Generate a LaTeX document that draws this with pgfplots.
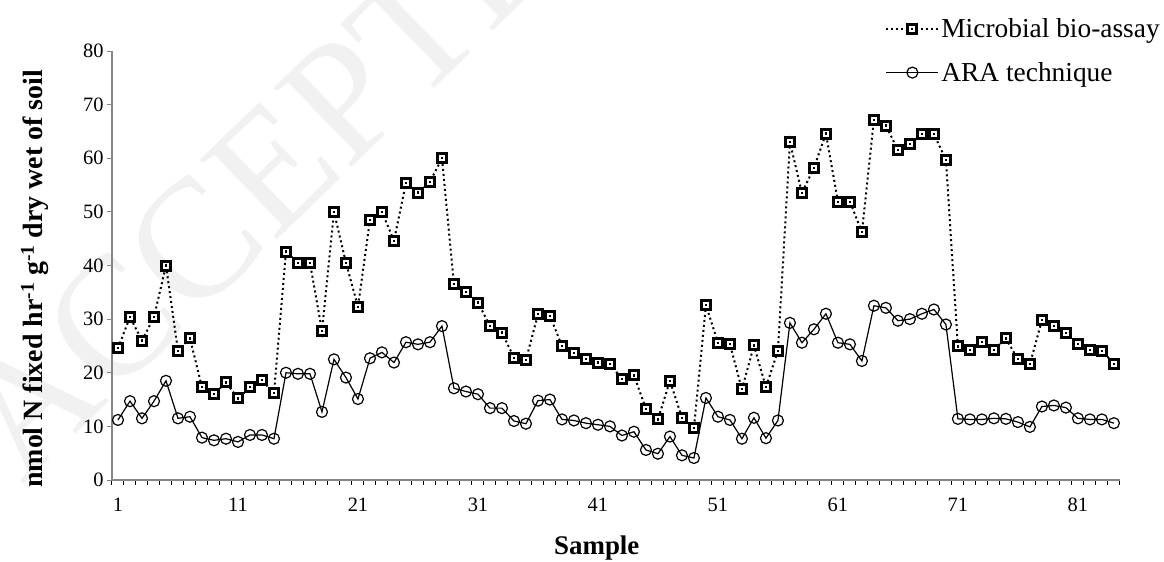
\documentclass[border=0pt]{standalone}
\usepackage{pgfplots}
\pgfplotsset{compat=1.18}
\usepackage{fontspec}
\setmainfont{Liberation Serif}
\definecolor{axisgray}{RGB}{134,134,134}

% Excel-like square marker: thick outline with a small dot in the middle
\pgfdeclareplotmark{sqdot}{%
  \pgfsetlinewidth{3bp}%
  \pgfsetdash{}{0pt}%
  \pgfpathrectangle{\pgfpoint{-\pgfplotmarksize}{-\pgfplotmarksize}}{\pgfpoint{2\pgfplotmarksize}{2\pgfplotmarksize}}%
  \pgfsetfillcolor{white}%
  \pgfusepath{fill,stroke}%
  \pgfpathrectangle{\pgfpoint{-1.1bp}{-1.1bp}}{\pgfpoint{2.2bp}{2.2bp}}%
  \pgfsetfillcolor{black}%
  \pgfusepath{fill}%
}

\begin{document}
\begin{tikzpicture}
\useasboundingbox (-112bp,-82bp) rectangle (1052bp,480bp);
% watermark
\node[rotate=44, text=gray!11, font=\fontsize{170}{170}\selectfont] at (187bp,338bp) {ACCEPTED};
\begin{axis}[
    at={(0,0)}, anchor=south west,
    width=1008bp, height=429bp, scale only axis,
    xmin=0.5, xmax=84.5, ymin=0, ymax=80,
    axis x line*=bottom, axis y line*=left,
    axis line style={draw=axisgray, line width=1.2bp, -},
    xtick={1,11,...,81},
    minor xtick={0.5,1.5,...,84.5},
    every major x tick/.append style={draw=none},
    every minor x tick/.append style={draw=black, line width=1bp},
    every major y tick/.append style={draw=axisgray, line width=1bp},
    ytick={0,10,...,80},
    tick align=outside,
    major tick length=5bp, minor tick length=5bp,
    /pgf/number format/assume math mode=true,
    tick label style={font=\fontsize{20.5}{24}\selectfont},
    xticklabel style={yshift=-9bp},
    xlabel={Sample},
    ylabel={nmol N fixed hr\textsuperscript{-1} g\textsuperscript{-1} dry wet of soil},
    xlabel style={font=\bfseries\fontsize{27}{30}\selectfont, at={(axis description cs:0.481,-0.1585)}, anchor=center},
    ylabel style={font=\bfseries\fontsize{28}{30}\selectfont, at={(axis description cs:-0.0764,0.469)}, anchor=center},
    legend style={at={(axis description cs:1.0417,1.08)}, anchor=north east,
        draw=none, fill=none, font=\fontsize{27.5}{30}\selectfont,
        row sep=19bp, inner sep=0pt},
    legend cell align=left,
    legend image code/.code={%
        \draw[mark repeat=2,mark phase=2,#1] plot coordinates {(0bp,0bp) (26bp,0bp) (52bp,0bp)};},
    clip=false,
]
\addplot[black, line width=2bp, dash pattern=on 2bp off 3bp, mark=sqdot, mark size=4.5bp]
coordinates {
(1,24.6) (2,30.4) (3,26.0) (4,30.4) (5,40.0) (6,24.1) (7,26.4) (8,17.3) (9,16.0) (10,18.2)
(11,15.2) (12,17.3) (13,18.6) (14,16.2) (15,42.6) (16,40.5) (17,40.5) (18,27.8) (19,50.0) (20,40.5)
(21,32.3) (22,48.5) (23,50.0) (24,44.6) (25,55.4) (26,53.6) (27,55.6) (28,60.0) (29,36.5) (30,35.1)
(31,33.1) (32,28.7) (33,27.5) (34,22.8) (35,22.4) (36,30.9) (37,30.6) (38,25.0) (39,23.7) (40,22.6)
(41,21.9) (42,21.7) (43,18.8) (44,19.5) (45,13.3) (46,11.3) (47,18.5) (48,11.6) (49,9.7) (50,32.6)
(51,25.6) (52,25.3) (53,16.9) (54,25.1) (55,17.3) (56,24.1) (57,63.0) (58,53.5) (59,58.2) (60,64.6)
(61,51.9) (62,51.9) (63,46.2) (64,67.2) (65,66.1) (66,61.5) (67,62.6) (68,64.5) (69,64.5) (70,59.7)
(71,24.9) (72,24.2) (73,25.7) (74,24.3) (75,26.4) (76,22.5) (77,21.6) (78,29.8) (79,28.7) (80,27.4)
(81,25.4) (82,24.2) (83,24.1) (84,21.7)
};
\addlegendentry{Microbial bio-assay}
\addplot[black, line width=1.2bp, mark=o, mark size=5.5bp, mark options={fill=white}]
coordinates {
(1,11.2) (2,14.7) (3,11.5) (4,14.7) (5,18.5) (6,11.5) (7,11.8) (8,7.9) (9,7.4) (10,7.7)
(11,7.1) (12,8.4) (13,8.4) (14,7.7) (15,20.0) (16,19.8) (17,19.8) (18,12.7) (19,22.5) (20,19.1)
(21,15.1) (22,22.7) (23,23.8) (24,21.9) (25,25.7) (26,25.3) (27,25.7) (28,28.7) (29,17.1) (30,16.5)
(31,16.0) (32,13.4) (33,13.4) (34,11.0) (35,10.5) (36,14.8) (37,15.0) (38,11.3) (39,11.1) (40,10.6)
(41,10.3) (42,10.0) (43,8.3) (44,9.0) (45,5.6) (46,4.9) (47,8.1) (48,4.6) (49,4.1) (50,15.3)
(51,11.8) (52,11.2) (53,7.7) (54,11.6) (55,7.8) (56,11.1) (57,29.3) (58,25.6) (59,28.1) (60,31.0)
(61,25.6) (62,25.3) (63,22.2) (64,32.5) (65,32.1) (66,29.7) (67,30.0) (68,31.0) (69,31.8) (70,29.0)
(71,11.4) (72,11.3) (73,11.3) (74,11.5) (75,11.4) (76,10.8) (77,9.9) (78,13.7) (79,13.9) (80,13.5)
(81,11.5) (82,11.3) (83,11.3) (84,10.6)
};
\addlegendentry{ARA technique}
\end{axis}
\end{tikzpicture}
\end{document}
